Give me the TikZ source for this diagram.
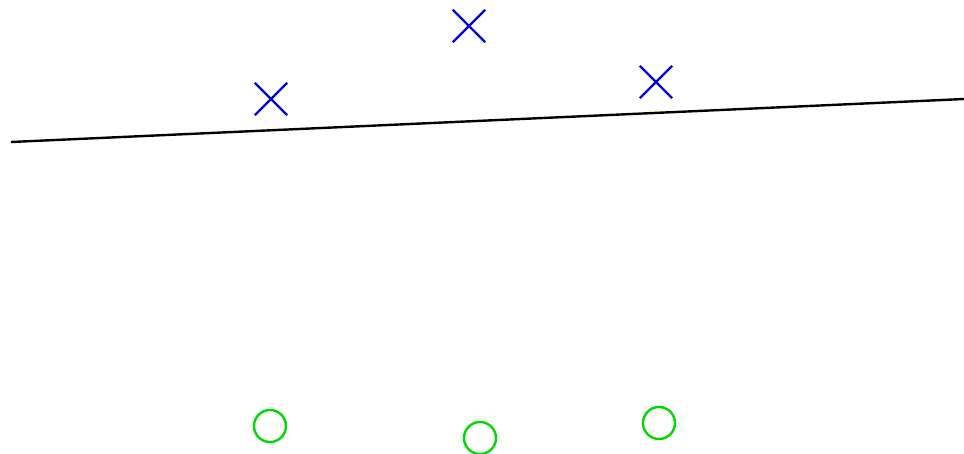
\documentclass[tikz,border=0pt]{standalone}
\usepackage{tikz}
\usetikzlibrary{shapes.misc}

\begin{document}
\begin{tikzpicture}[x=1pt,y=-1pt,
   xmark/.style={cross out,draw=blue!85!black,line width=2.4pt,minimum size=30pt,inner sep=0pt},
   omark/.style={circle,draw=green!85!black,line width=2.4pt,minimum size=32pt,inner sep=0pt}]
  \useasboundingbox (0,0) rectangle (964,453);
  \node[xmark] (x1) at (271,99) {};
  \node[xmark] (x2) at (469,26) {};
  \node[xmark] (x3) at (656,82) {};
  \node[omark] (o1) at (270,426) {};
  \node[omark] (o2) at (480,438) {};
  \node[omark] (o3) at (659,423) {};
  \coordinate (l) at (11,142);
  \coordinate (r) at (964,99);
  \draw[line width=2.4pt] (l) -- (r);
\end{tikzpicture}
\end{document}
